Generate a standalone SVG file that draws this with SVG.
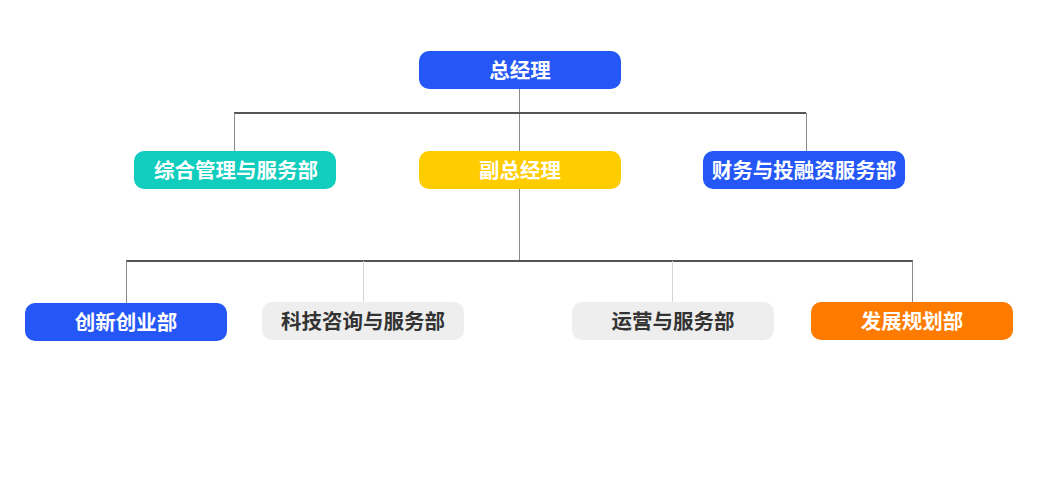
<svg xmlns="http://www.w3.org/2000/svg" width="1044" height="484" viewBox="0 0 1044 484">
<style>
text{font-family:"Noto Sans CJK SC","Noto Sans",sans-serif;font-size:20.5px;font-weight:bold;text-anchor:middle;dominant-baseline:central}
.w{fill:#ffffff}
.d{fill:#333333}
.main{stroke:#555555;stroke-width:2;fill:none}
.thin{stroke:#8a8a8a;stroke-width:1;fill:none}
.light{stroke:#d6d6d6;stroke-width:1;fill:none}
</style>
<rect width="1044" height="484" fill="#ffffff"/>
<g id="connectors">
<line class="thin" x1="519.5" y1="89" x2="519.5" y2="151"/>
<line class="main" x1="234" y1="113" x2="806" y2="113"/>
<line class="thin" x1="234.5" y1="113" x2="234.5" y2="151"/>
<line class="thin" x1="806.5" y1="113" x2="806.5" y2="151"/>
<line class="thin" x1="519.5" y1="189" x2="519.5" y2="261"/>
<line class="main" x1="126" y1="261" x2="913" y2="261"/>
<line class="thin" x1="126.5" y1="261" x2="126.5" y2="303"/>
<line class="light" x1="363.5" y1="261" x2="363.5" y2="302"/>
<line class="light" x1="672.5" y1="261" x2="672.5" y2="302"/>
<line class="thin" x1="912.5" y1="261" x2="912.5" y2="302"/>
</g>
<g id="n-gm"><rect x="419" y="51" width="202" height="38" rx="10" fill="#2457F5"/><text class="w" x="520" y="68.5">总经理</text></g>
<g id="n-admin"><rect x="134" y="151" width="202" height="38" rx="10" fill="#10CDBD"/><text class="w" x="236" y="168.5">综合管理与服务部</text></g>
<g id="n-dgm"><rect x="419" y="151" width="202" height="38" rx="10" fill="#FFCC00"/><text class="w" x="520" y="168.5">副总经理</text></g>
<g id="n-fin"><rect x="703" y="151" width="202" height="38" rx="10" fill="#2457F5"/><text class="w" x="804" y="168.5">财务与投融资服务部</text></g>
<g id="n-innov"><rect x="25" y="303" width="202" height="38" rx="10" fill="#2457F5"/><text class="w" x="126" y="320.5">创新创业部</text></g>
<g id="n-tech"><rect x="262" y="302" width="202" height="38" rx="10" fill="#EEEEEE"/><text class="d" x="363" y="319.5">科技咨询与服务部</text></g>
<g id="n-ops"><rect x="572" y="302" width="202" height="38" rx="10" fill="#EEEEEE"/><text class="d" x="673" y="319.5">运营与服务部</text></g>
<g id="n-plan"><rect x="811" y="302" width="202" height="38" rx="10" fill="#FF7B00"/><text class="w" x="912" y="319.5">发展规划部</text></g>
</svg>
